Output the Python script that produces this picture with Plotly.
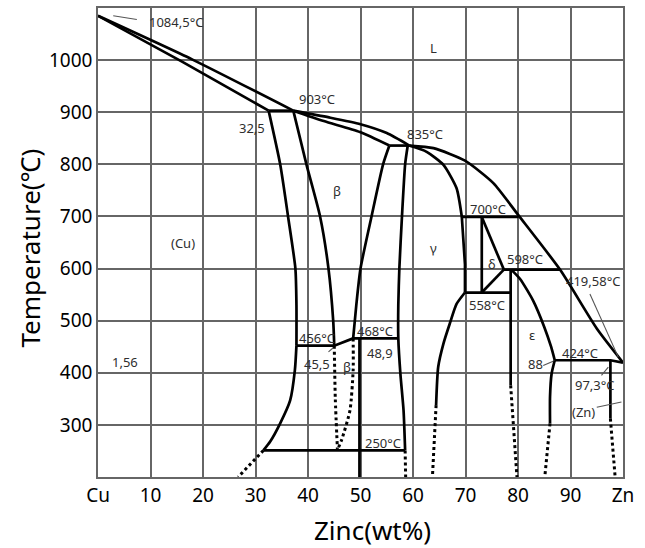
import plotly.graph_objects as go

# ---------------- data (wt% Zn, temperature °C) ----------------
liq_cu_x = [0, 18, 37.2]
liq_cu_t = [1085, 1001, 903]
sol_cu_x = [0, 16, 32.5]
sol_cu_t = [1085, 997, 903]
iso903_x = [32.5, 37.2]
iso903_t = [903, 903]
liq_mid_x = [37.2, 44, 50, 55, 59.3]
liq_mid_t = [903, 890, 877, 860, 836]
sol_beta_x = [37.2, 43, 49.9, 55.5]
sol_beta_t = [903, 883, 862, 836]
iso835_x = [55.5, 59.3]
iso835_t = [836, 836]
liq_zn_x = [59.3, 63.9, 69.9, 75.3, 80.1, 88, 95, 100]
liq_zn_t = [836, 831, 807, 764, 702, 598, 485, 419.6]
sol_gamma_x = [59.3, 62.6, 65.8, 68.3, 69.3]
sol_gamma_t = [836, 824, 799, 754, 699]
alpha_up_x = [32.5, 34.7, 36.2, 37.6, 37.8, 37.8]
alpha_up_t = [903, 800, 700, 600, 530, 452]
alpha_lo_x = [37.8, 37.5, 36.6, 34.7, 32.8, 31.5]
alpha_lo_t = [452, 405, 347, 303, 268, 251]
alpha_dot_x = [31.5, 26.7]
alpha_dot_t = [251, 200]
ab_x = [37.2, 39.7, 42.3, 43.9, 44.8, 45.0]
ab_t = [903, 800, 700, 600, 500, 452]
iso456_x = [37.8, 45.0, 48.6]
iso456_t = [452, 452, 466]
iso468_x = [48.6, 57.2]
iso468_t = [466, 466]
beta_r_x = [55.5, 54.3, 52.1, 50.0, 49.2, 48.6]
beta_r_t = [836, 800, 700, 600, 530, 466]
gam_l_x = [59.0, 58.5, 57.9, 57.4, 57.2, 57.2, 57.6, 58.2, 58.5]
gam_l_t = [836, 800, 700, 600, 530, 466, 398, 328, 251]
gam_l_dot_x = [58.5, 58.6]
gam_l_dot_t = [251, 200]
beta2_x = [49.8, 49.8]
beta2_t = [466, 200]
iso250_x = [31.5, 58.5]
iso250_t = [251, 251]
beta_dot1_x = [45.0, 45.2, 45.6]
beta_dot1_t = [452, 350, 254]
beta_dot2_x = [48.6, 48.6, 48.0, 46.4, 45.7]
beta_dot2_t = [466, 405, 328, 271, 254]
gam_r_x = [69.3, 69.9, 69.9]
gam_r_t = [699, 608, 554]
gam_r2_x = [69.9, 68.3, 67.0, 65.8, 64.8, 64.4]
gam_r2_t = [554, 532, 494, 456, 411, 338]
gam_r2_dot_x = [64.4, 63.7]
gam_r2_dot_t = [338, 200]
iso700_x = [69.3, 80.1]
iso700_t = [699, 699]
delta_l_x = [73.1, 73.1]
delta_l_t = [699, 554]
delta_u_x = [73.1, 77.3]
delta_u_t = [699, 598]
delta_d_x = [73.1, 77.3]
delta_d_t = [554, 598]
iso558_x = [69.9, 78.6]
iso558_t = [554, 554]
iso598_x = [77.3, 88]
iso598_t = [598, 598]
eps_l_x = [78.6, 78.6]
eps_l_t = [598, 376]
eps_l_dot_x = [78.6, 79.8]
eps_l_dot_t = [376, 200]
eps_r_x = [78.7, 80.4, 82.9, 85.0, 86.3, 87.0]
eps_r_t = [598, 580, 538, 488, 450, 424]
eps_r2_x = [87.0, 86.4, 86.1, 86.1]
eps_r2_t = [424, 398, 354, 303]
eps_r2_dot_x = [86.1, 85.1]
eps_r2_dot_t = [303, 200]
iso424_x = [87.0, 97.6, 100]
iso424_t = [424, 424, 419.6]
zn_x = [97.6, 97.6]
zn_t = [424, 312]
zn_dot_x = [97.6, 98.5]
zn_dot_t = [312, 200]

# leader lines
leaders = [
    ([2.9, 7.4], [1085, 1078]),
    ([43.9, 44.8], [440, 448]),
    ([84.8, 86.7], [414, 422]),
    ([97.2, 95.9], [411, 395]),
    ([95.0, 99.7], [334, 344]),
    ([93.7, 99.1], [551, 430]),
]

# labels
label_text = ["1084,5°C", "903°C", "32,5", "L", "835°C", "β", "(Cu)", "1,56",
              "456°C", "45,5", "β", "468°C", "48,9", "250°C", "γ", "700°C",
              "δ", "598°C", "558°C", "419,58°C", "ε", "424°C", "88", "97,3°C", "(Zn)"]
label_x = [14.9, 41.8, 29.3, 63.9, 62.3, 45.5, 16.1, 5.1,
           41.7, 41.7, 47.4, 52.8, 53.7, 54.2, 63.9, 74.3,
           75.0, 81.3, 74.0, 94.2, 82.6, 91.8, 83.3, 94.7, 92.4]
label_t = [1074, 925, 870, 1024, 859, 748, 650, 420,
           467, 416, 411, 481, 438, 266, 640, 715,
           608, 619, 531, 577, 472, 438, 416, 376, 325]

x_ticks = [0, 10, 20, 30, 40, 50, 60, 70, 80, 90, 100]
x_ticktext = ["Cu", "10", "20", "30", "40", "50", "60", "70", "80", "90", "Zn"]
y_ticks = [300, 400, 500, 600, 700, 800, 900, 1000]

# ---------------- figure ----------------
fig = go.Figure()
LW = 2.7

def add(x, t, dot=False, spline=False, color="black", width=LW):
    fig.add_trace(go.Scatter(
        x=x, y=t, mode="lines", hoverinfo="skip", showlegend=False,
        line=dict(color=color, width=(3 if dot else width),
                  dash=("dot" if dot else "solid"),
                  shape=("spline" if spline else "linear"), smoothing=0.6)))

add(liq_cu_x, liq_cu_t, spline=True)
add(sol_cu_x, sol_cu_t, spline=True)
add(iso903_x, iso903_t)
add(liq_mid_x, liq_mid_t, spline=True)
add(sol_beta_x, sol_beta_t, spline=True)
add(iso835_x, iso835_t)
add(liq_zn_x, liq_zn_t, spline=True)
add(sol_gamma_x, sol_gamma_t, spline=True)
add(alpha_up_x, alpha_up_t, spline=True)
add(alpha_lo_x, alpha_lo_t, spline=True)
add(alpha_dot_x, alpha_dot_t, dot=True)
add(ab_x, ab_t, spline=True)
add(iso456_x, iso456_t)
add(iso468_x, iso468_t)
add(beta_r_x, beta_r_t, spline=True)
add(gam_l_x, gam_l_t, spline=True)
add(gam_l_dot_x, gam_l_dot_t, dot=True)
add(beta2_x, beta2_t)
add(iso250_x, iso250_t)
add(beta_dot1_x, beta_dot1_t, dot=True, spline=True)
add(beta_dot2_x, beta_dot2_t, dot=True, spline=True)
add(gam_r_x, gam_r_t)
add(gam_r2_x, gam_r2_t, spline=True)
add(gam_r2_dot_x, gam_r2_dot_t, dot=True)
add(iso700_x, iso700_t)
add(delta_l_x, delta_l_t)
add(delta_u_x, delta_u_t)
add(delta_d_x, delta_d_t)
add(iso558_x, iso558_t)
add(iso598_x, iso598_t)
add(eps_l_x, eps_l_t)
add(eps_l_dot_x, eps_l_dot_t, dot=True)
add(eps_r_x, eps_r_t, spline=True)
add(eps_r2_x, eps_r2_t, spline=True)
add(eps_r2_dot_x, eps_r2_dot_t, dot=True)
add(iso424_x, iso424_t)
add(zn_x, zn_t)
add(zn_dot_x, zn_dot_t, dot=True)
for lx, lt in leaders:
    add(lx, lt, color="#555555", width=1.1)

for txt, lx, lt in zip(label_text, label_x, label_t):
    fig.add_annotation(x=lx, y=lt, text=txt, showarrow=False,
                       xanchor="center", yanchor="middle",
                       font=dict(family="Noto Sans", size=13, color="#2e2e2e"))

fig.add_annotation(xref="paper", yref="paper", x=-0.1295, y=0.487,
                   xanchor="center", yanchor="middle",
                   text="Temperature(℃)", showarrow=False, textangle=-90,
                   font=dict(family="Noto Sans", size=26, color="black"))
fig.add_annotation(xref="paper", yref="paper", x=0.522, y=-0.112,
                   xanchor="center", yanchor="middle",
                   text="Zinc(wt%)", showarrow=False,
                   font=dict(family="Noto Sans", size=26, color="black"))

axis_common = dict(showgrid=True, gridcolor="#666666", gridwidth=1.6,
                   showline=True, linecolor="#666666", linewidth=1.6, mirror=True,
                   zeroline=False, ticks="",
                   tickfont=dict(family="Noto Sans", size=19, color="black"))
fig.update_xaxes(range=[0, 100], tickvals=x_ticks, ticktext=x_ticktext, **axis_common)
fig.update_yaxes(range=[200, 1100], tickvals=y_ticks, **axis_common)

fig.update_layout(width=645, height=548,
                  margin=dict(l=98, r=22, t=6, b=71),
                  paper_bgcolor="white", plot_bgcolor="white")

fig.write_html("out.html")
